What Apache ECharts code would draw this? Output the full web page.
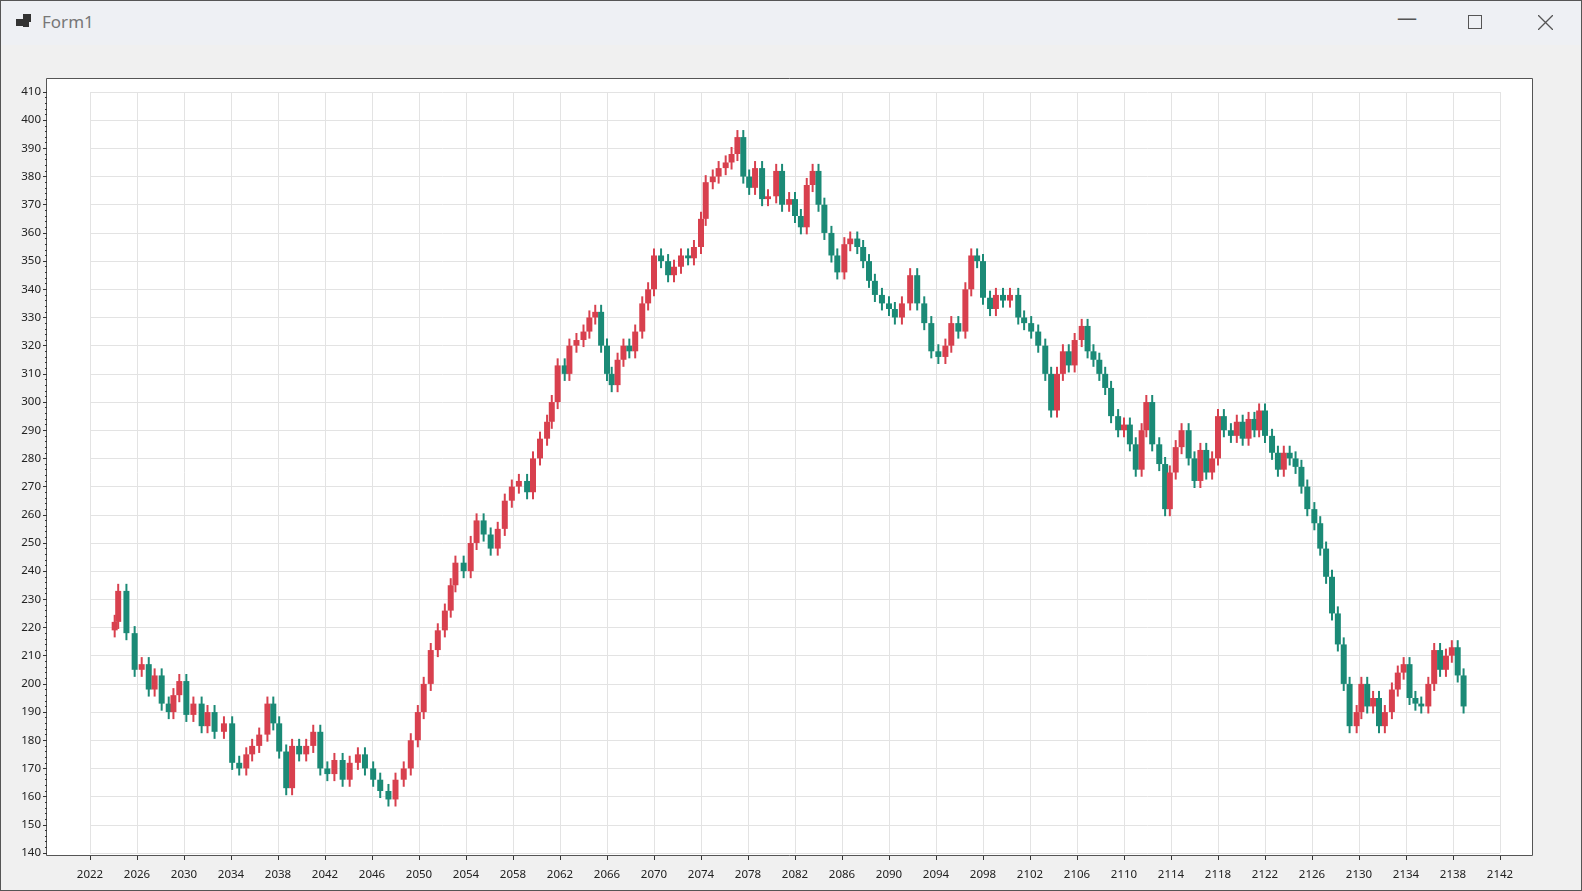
<!DOCTYPE html>
<html><head><meta charset="utf-8">
<script src="https://cdn.jsdelivr.net/npm/echarts@6/dist/echarts.min.js"></script>
<style>
html,body{margin:0;padding:0;width:1582px;height:891px;overflow:hidden;background:#f0f0f0;font-family:"Noto Sans","DejaVu Sans",sans-serif;}
.titlebar{position:absolute;left:0;top:0;width:1582px;height:45px;background:#eef0f4;}
.title{position:absolute;left:42px;top:10px;font-size:17px;color:#777;}
.ico{position:absolute;left:16px;top:13px;width:16px;height:16px;}
.btn{position:absolute;top:8px;font-size:20px;color:#555;}
#main{position:absolute;left:0;top:0;width:1582px;height:891px;}
.frame{position:absolute;left:0;top:0;width:1580px;height:889px;border:1px solid #555;pointer-events:none;}
</style></head>
<body>
<div id="main"></div>
<div class="titlebar">
  <svg class="ico" viewBox="0 0 16 16"><rect x="0" y="6" width="7" height="7" fill="#333"/><rect x="7" y="1" width="8" height="8" fill="#333"/><rect x="7" y="9" width="6" height="5" fill="#333"/></svg>
  <div class="title">Form1</div>
  <div class="btn" style="left:1397px;top:4px;">&#8212;</div>
  <svg style="position:absolute;left:1468px;top:15px" width="14" height="14"><rect x="0.5" y="0.5" width="13" height="13" fill="none" stroke="#555"/></svg>
  <svg style="position:absolute;left:1538px;top:15px" width="15" height="15"><path d="M0 0L15 15M15 0L0 15" stroke="#555" stroke-width="1.3"/></svg>
</div>
<div class="frame"></div>
<script>
// time (decimal years) and closing prices
var years = [
2024.1,2024.4,2025.1,2025.8,2026.4,2027.0,2027.5,2028.1,2028.7,2029.1,2029.6,2030.2,2030.8,2031.5,2032.0,2032.6,2033.4,2034.1,2034.7,2035.3,
2035.8,2036.4,2037.1,2037.6,2038.1,2038.7,2039.2,2039.8,2040.4,2041.0,2041.6,2042.2,2042.8,2043.5,2044.1,2044.8,2045.4,2046.1,2046.7,2047.4,
2048.0,2048.7,2049.3,2049.9,2050.4,2051.0,2051.6,2052.2,2052.7,2053.1,2053.8,2054.4,2054.9,2055.5,2056.1,2056.7,2057.3,2057.9,2058.5,2059.2,
2059.7,2060.3,2060.9,2061.3,2061.8,2062.4,2062.8,2063.4,2064.0,2064.5,2065.0,2065.5,2066.0,2066.4,2066.9,2067.4,2067.9,2068.4,2069.0,2069.5,
2070.0,2070.6,2071.2,2071.7,2072.3,2072.9,2073.4,2074.0,2074.4,2075.0,2075.5,2076.1,2076.6,2077.1,2077.6,2078.1,2078.6,2079.2,2079.7,2080.4,
2080.9,2081.5,2082.0,2082.5,2083.0,2083.5,2084.0,2084.5,2085.1,2085.6,2086.2,2086.7,2087.3,2087.8,2088.3,2088.8,2089.4,2090.0,2090.5,2091.1,
2091.8,2092.4,2093.0,2093.6,2094.2,2094.8,2095.3,2095.9,2096.5,2097.0,2097.5,2098.0,2098.6,2099.1,2099.7,2100.3,2101.0,2101.5,2102.1,2102.7,
2103.3,2103.8,2104.3,2104.8,2105.3,2105.8,2106.4,2106.9,2107.4,2107.9,2108.4,2108.9,2109.5,2110.0,2110.5,2111.0,2111.5,2111.9,2112.4,2113.0,
2113.5,2113.9,2114.4,2114.9,2115.5,2116.0,2116.5,2117.0,2117.5,2118.0,2118.5,2119.1,2119.6,2120.1,2120.6,2121.1,2121.5,2122.0,2122.6,2123.1,
2123.6,2124.1,2124.6,2125.1,2125.6,2126.2,2126.7,2127.2,2127.7,2128.2,2128.7,2129.2,2129.8,2130.2,2130.7,2131.2,2131.7,2132.2,2132.8,2133.3,
2133.8,2134.3,2134.8,2135.3,2135.9,2136.4,2136.9,2137.4,2137.9,2138.4,2138.9
];
var closes = [
222,233,218,205,207,198,203,193,190,196,201,189,193,185,190,183,186,172,170,175,
178,182,193,186,176,163,178,175,178,183,170,168,173,166,172,175,170,166,162,159,
166,170,180,190,200,212,219,226,235,243,240,250,258,253,248,255,265,270,272,268,
280,287,293,300,313,310,320,322,325,330,332,320,310,306,315,320,318,325,335,340,
352,350,345,348,352,351,355,365,378,380,383,385,388,394,380,376,383,372,373,382,
370,372,366,362,377,382,370,360,352,346,356,358,355,350,343,338,335,333,330,335,
345,335,328,318,316,320,328,325,340,352,350,337,333,338,336,338,330,328,325,320,
310,297,310,318,313,322,327,318,315,310,305,295,290,292,285,276,290,300,285,278,
262,275,284,290,280,272,283,275,280,295,290,288,293,287,294,290,297,288,282,276,
282,280,277,270,262,257,248,238,225,214,200,185,190,200,192,195,185,190,198,204,
207,195,193,192,200,212,205,210,213,203,192
];

var candles = closes.map(function (c, i) {
  var o = i === 0 ? c - 3 : closes[i - 1];
  return [years[i], o, c, Math.min(o, c) - 2.5, Math.max(o, c) + 2.5];
});

var chart = echarts.init(document.getElementById('main'));
chart.setOption({
  backgroundColor: '#f0f0f0',
  animation: false,
  graphic: [{
    type: 'rect', z: -10, silent: true,
    shape: {x: 46.5, y: 78.5, width: 1486, height: 777},
    style: {fill: '#fff', stroke: '#555', lineWidth: 1}
  }],
  grid: {left: 90, right: 82, top: 92, bottom: 38},
  xAxis: {
    type: 'value', min: 2022, max: 2142, interval: 4, offset: 3,
    axisLine: {show: false},
    axisTick: {show: true, length: 4, lineStyle: {color: '#333'}},
    axisLabel: {color: '#222', fontSize: 11.5, margin: 13, fontFamily: 'Noto Sans', formatter: function (v) { return String(v); }},
    splitLine: {show: true, lineStyle: {color: '#e3e3e3'}}
  },
  yAxis: {
    type: 'value', min: 140, max: 410, interval: 10, offset: 43,
    axisLine: {show: false},
    axisTick: {show: true, length: 4, lineStyle: {color: '#333'}},
    minorTick: {show: true, splitNumber: 5, length: 2, lineStyle: {color: '#333'}},
    axisLabel: {color: '#222', fontSize: 11.5, margin: 6, fontFamily: 'Noto Sans'},
    splitLine: {show: true, lineStyle: {color: '#e3e3e3'}}
  },
  series: [{
    type: 'custom',
    data: candles,
    clip: false,
    renderItem: function (params, api) {
      var x = api.value(0), o = api.value(1), c = api.value(2), l = api.value(3), h = api.value(4);
      var po = api.coord([x, o]), pc = api.coord([x, c]);
      var pl = api.coord([x, l]), ph = api.coord([x, h]);
      var color = c >= o ? '#d8404e' : '#1b8a76';
      var w = 6;
      return {
        type: 'group',
        children: [
          {type: 'line', shape: {x1: pl[0], y1: pl[1], x2: ph[0], y2: ph[1]}, style: {stroke: color, lineWidth: 2}},
          {type: 'rect', shape: {x: po[0] - w / 2, y: Math.min(po[1], pc[1]), width: w, height: Math.max(1, Math.abs(po[1] - pc[1]))}, style: {fill: color}}
        ]
      };
    }
  }]
});
</script>
</body></html>
